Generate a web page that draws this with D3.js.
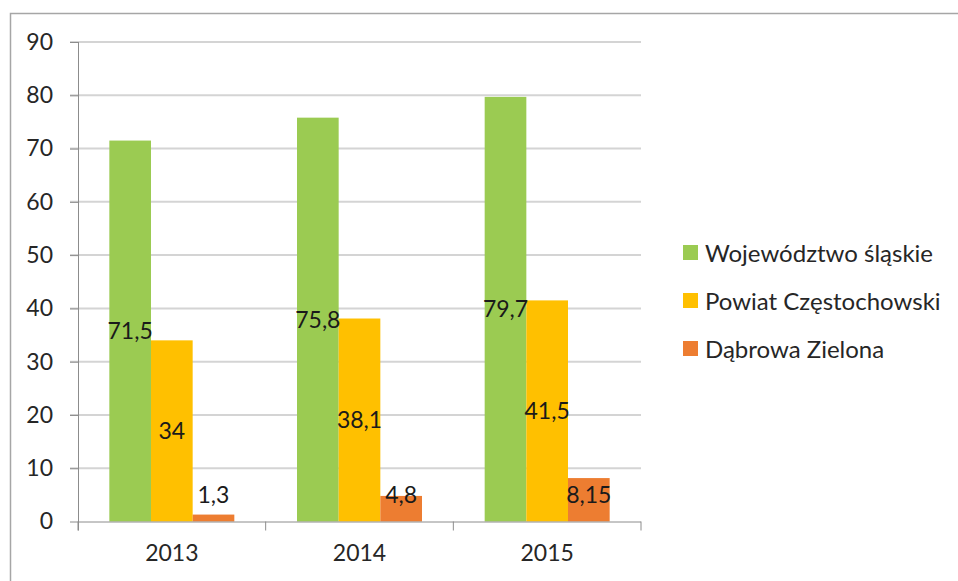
<!DOCTYPE html>
<html>
<head>
<meta charset="utf-8">
<title>chart</title>
<style>
body { margin: 0; background: #fff; }
text { font-family: Lato, "Open Sans", sans-serif; fill: #262626; }
</style>
</head>
<body>
<div id="chart"></div>
<script src="https://cdn.jsdelivr.net/npm/d3@7"></script>
<script>
var years = ['2013', '2014', '2015'];
var seriesNames = ['Województwo śląskie', 'Powiat Częstochowski', 'Dąbrowa Zielona'];
var slaskie = [71.5, 75.8, 79.7];
var powiat = [34, 38.1, 41.5];
var dabrowa = [1.3, 4.8, 8.15];
var labels = [['71,5', '75,8', '79,7'], ['34', '38,1', '41,5'], ['1,3', '4,8', '8,15']];
var yTicks = [0, 10, 20, 30, 40, 50, 60, 70, 80, 90];

var colors = ['#9BCB52', '#FFC000', '#ED7D31'];
var series = [slaskie, powiat, dabrowa];

var W = 958, H = 581;
var mLeft = 78, mRight = 641, mTop = 42, mBottom = 521.5;

var svg = d3.select('#chart')
  .append('svg')
  .attr('width', W)
  .attr('height', H);

// frame (cut off at right and bottom)
svg.append('path')
  .attr('d', 'M10.5,' + H + 'V13.5H' + W)
  .attr('fill', 'none')
  .attr('stroke', '#a6a6a6')
  .attr('stroke-width', 1.5);

var y = d3.scaleLinear().domain([0, 90]).range([mBottom, mTop]);

var x = d3.scaleBand()
  .domain(years)
  .range([mLeft, mRight])
  .paddingInner(0.334)
  .paddingOuter(0.167);

var xs = d3.scaleBand()
  .domain(d3.range(series.length))
  .range([0, x.bandwidth()]);

// gridlines
svg.append('g')
  .selectAll('line')
  .data(yTicks.slice(1))
  .join('line')
  .attr('x1', mLeft - 8)
  .attr('x2', mRight)
  .attr('y1', d => y(d))
  .attr('y2', d => y(d))
  .attr('stroke', '#d4d4d4')
  .attr('stroke-width', 2);

// y axis
var yAxis = svg.append('g')
  .attr('transform', 'translate(' + mLeft + ',0)')
  .call(d3.axisLeft(y).tickValues(yTicks).tickSize(8).tickPadding(17).tickFormat(d3.format('d')));
yAxis.select('.domain').attr('stroke', '#8c8c8c').attr('d', 'M0.5,' + mTop + 'V' + (mBottom + 9));
yAxis.selectAll('.tick line').attr('stroke', '#8c8c8c');
yAxis.selectAll('.tick text').style('font-size', '23px').attr('fill', '#262626').attr('font-family', null);

// bars
years.forEach((yr, i) => {
  series.forEach((s, k) => {
    svg.append('rect')
      .attr('x', x(yr) + xs(k))
      .attr('y', y(s[i]))
      .attr('width', xs.bandwidth())
      .attr('height', y(0) - y(s[i]))
      .attr('fill', colors[k]);
  });
});

// x axis
var xAxis = svg.append('g')
  .attr('transform', 'translate(0,' + mBottom + ')')
  .call(d3.axisBottom(x).tickSize(0).tickPadding(23));
xAxis.select('.domain').attr('stroke', '#8c8c8c').attr('d', 'M' + mLeft + ',0.5H' + mRight);
xAxis.selectAll('.tick text').style('font-size', '23px').attr('fill', '#262626').attr('font-family', null);
xAxis.selectAll('.sep')
  .data(years.concat(['end']))
  .join('line')
  .attr('x1', (d, i) => i < years.length ? x(d) - x.step() * x.paddingOuter() : mRight)
  .attr('x2', (d, i) => i < years.length ? x(d) - x.step() * x.paddingOuter() : mRight)
  .attr('y1', 0)
  .attr('y2', 9)
  .attr('stroke', '#8c8c8c');

// data labels
years.forEach((yr, i) => {
  series.forEach((s, k) => {
    var ly = k < 2 ? y(s[i] / 2) : y(Math.max(s[i] / 2, 5));
    svg.append('text')
      .attr('x', x(yr) + xs(k) + xs.bandwidth() / 2)
      .attr('y', ly)
      .attr('dy', '0.36em')
      .attr('text-anchor', 'middle')
      .style('font-size', '23px')
      .style('fill', '#1a1a1a')
      .text(labels[k][i]);
  });
});

// legend
var legend = svg.append('g')
  .selectAll('g')
  .data(seriesNames)
  .join('g')
  .attr('transform', (d, i) => 'translate(683,' + (253 + i * 48) + ')');
legend.append('rect')
  .attr('x', 0)
  .attr('y', -8)
  .attr('width', 15)
  .attr('height', 15)
  .attr('fill', (d, i) => colors[i]);
legend.append('text')
  .attr('x', 22)
  .attr('y', 0)
  .attr('dy', '0.36em')
  .style('font-size', '24px')
  .text(d => d);
</script>
</body>
</html>
